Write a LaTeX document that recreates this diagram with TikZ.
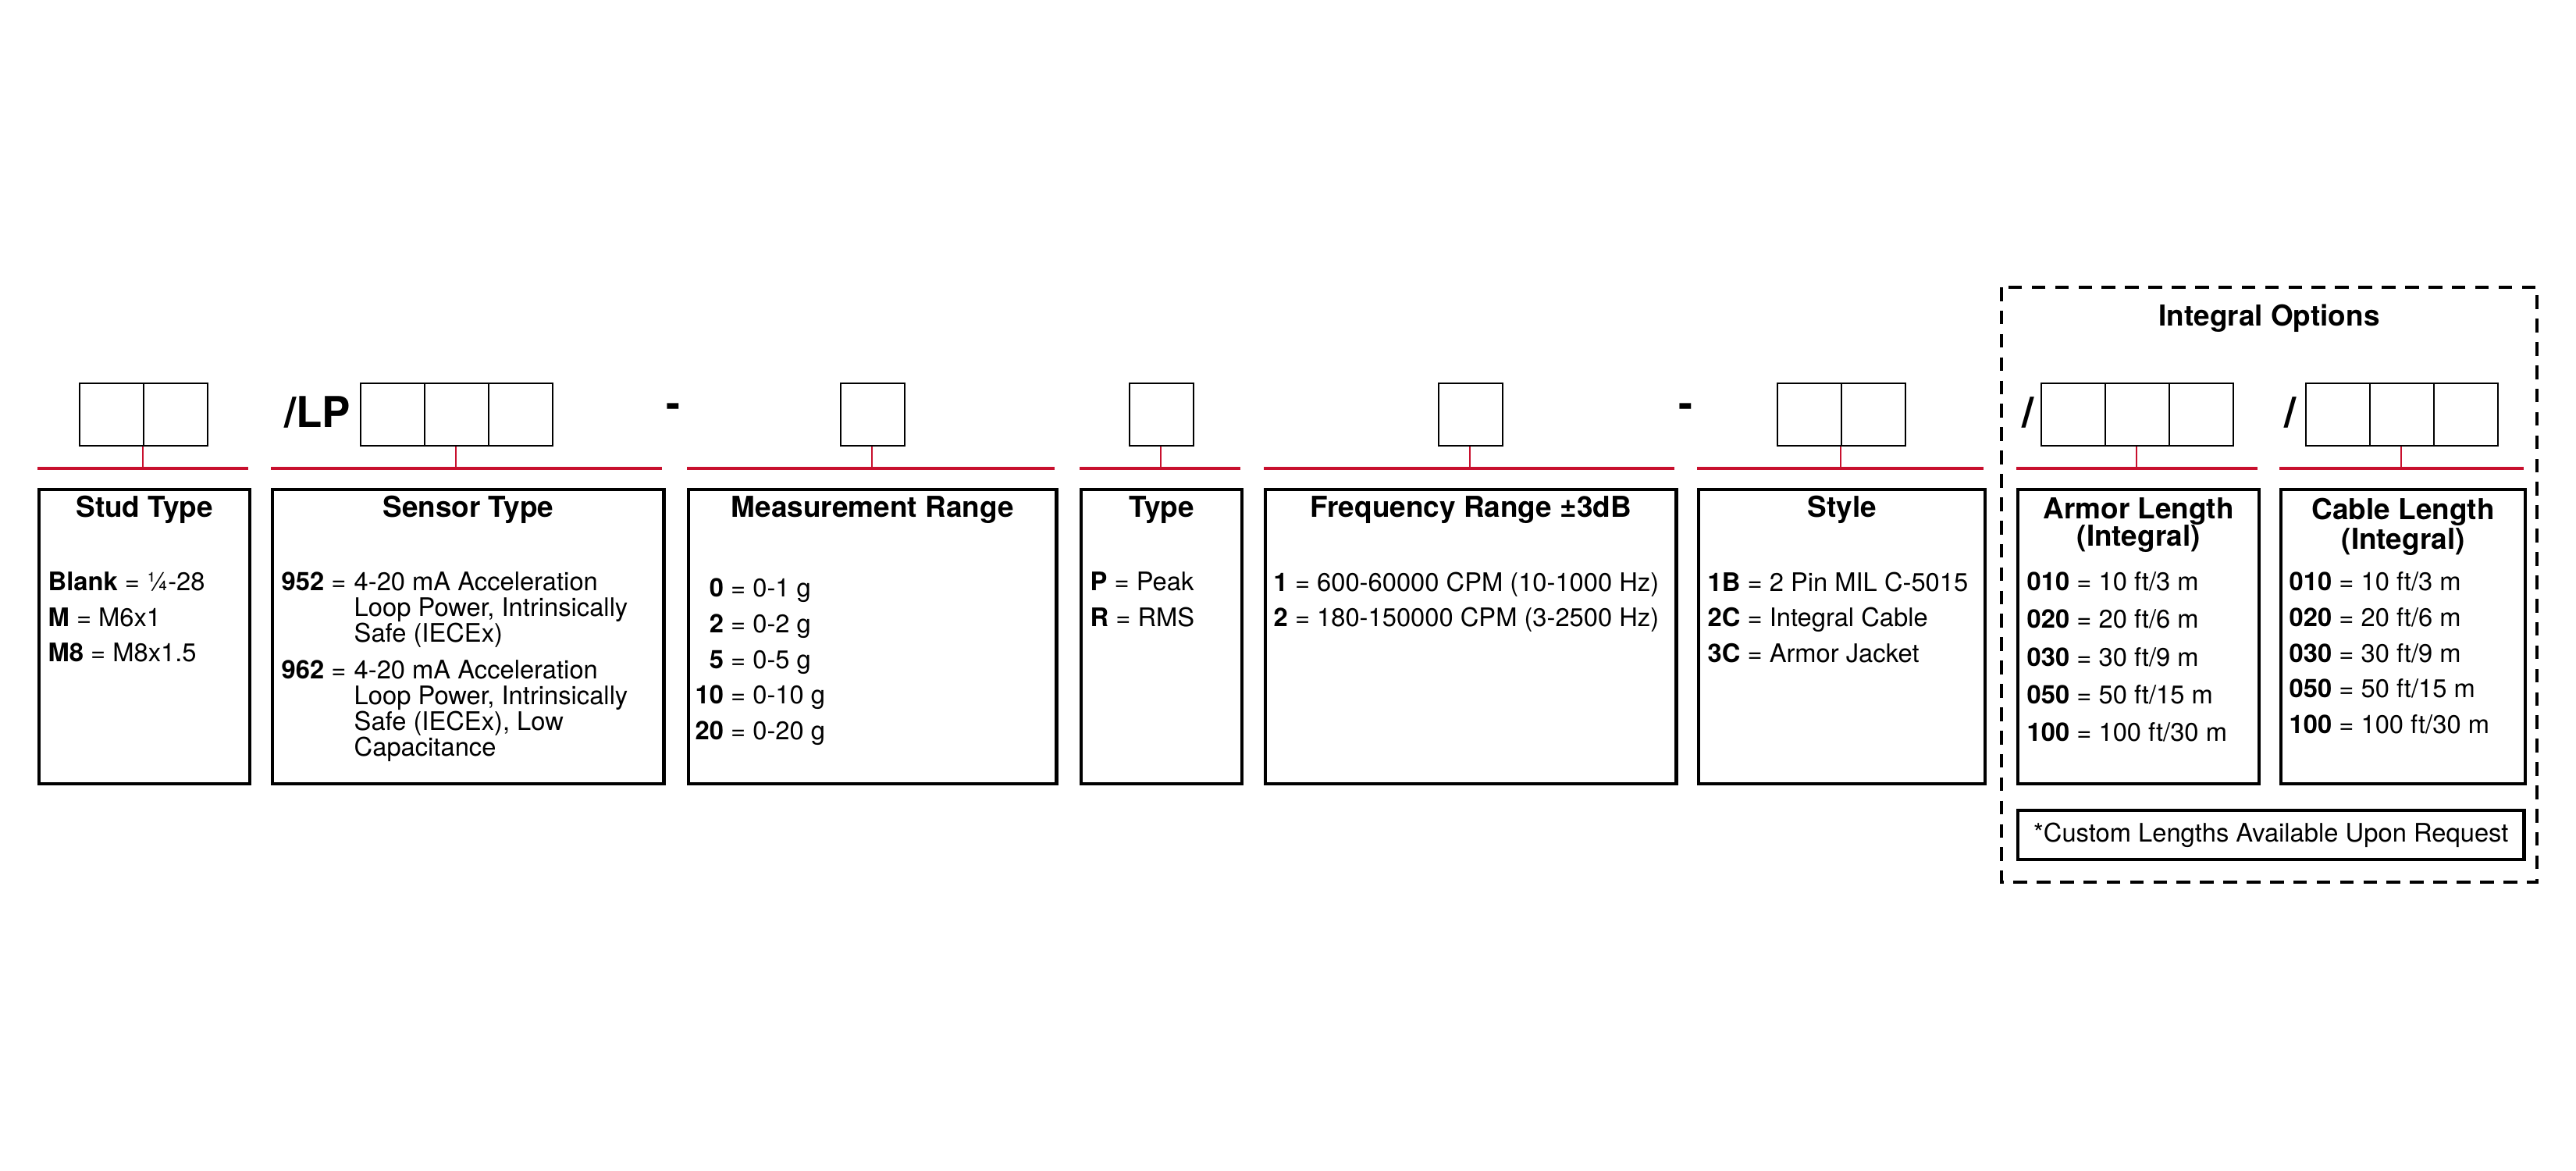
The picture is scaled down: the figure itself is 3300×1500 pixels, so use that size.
\documentclass[tikz,border=0pt]{standalone}
\usepackage{fontspec}
\setmainfont{TeX Gyre Heros}
\usepackage{tikz}
\usetikzlibrary{positioning,calc}
\definecolor{codered}{RGB}{200,16,46}
\tikzset{redline/.style={draw=codered, line width=1.1pt},
         stem/.style={draw=codered, line width=0.8pt},
         slot/.style={draw, line width=0.6pt, minimum width=0.82cm,
                      minimum height=0.8cm, inner sep=0pt, anchor=north west},
         catbox/.style={draw, line width=1.2pt, inner sep=0pt, anchor=north west},
         title/.style={font=\fontsize{10.5}{11}\selectfont\bfseries, align=center,
                       inner sep=0pt},
         body/.style={font=\fontsize{9.3}{13}\selectfont, align=left,
                      inner sep=0pt, anchor=north west},
         wrap/.style={font=\fontsize{9.3}{9.4}\selectfont, align=left,
                      inner sep=0pt, anchor=north west},
         sep/.style={font=\fontsize{15.5}{16}\selectfont\bfseries, inner sep=0pt}}
\newcommand{\opt}[2]{\textbf{#1} = #2}
\begin{document}
\begin{tikzpicture}[x=0.01cm, y=-0.01cm]
  \useasboundingbox (0,0) rectangle (3300,1500);

  % code slots, red rails and option boxes
  \foreach \n/\xl/\xr/\sx/\k in {stud/48/318/101/2, sensor/347/848/461/3,
      meas/880/1351/1076/1, type/1383/1589/1446/1, freq/1619/2145/1842/1,
      style/2174/2541/2276/2, armor/2583/2892/2614/3, cable/2920/3233/2953/3}{
    \pgfmathsetmacro{\bw}{(\xr-\xl)/100}
    \foreach \i in {1,...,\k}
      \node[slot] (\n-s\i) at (\sx+82*\i-82,490) {};
    \coordinate (\n-l) at (\xl,600);
    \coordinate (\n-r) at (\xr,600);
    \coordinate (\n-c) at (\sx+41*\k,600);
    \draw[redline] (\n-l) -- (\n-r);
    \draw[stem] (\n-c) -- (\n-c |- \n-s1.south);
    \node[catbox, minimum width=\bw cm, minimum height=3.77cm] (\n) at (\xl,625) {};
  }

  % separators
  \node[sep, anchor=east] (lp) at (450,528) {/LP};
  \node[sep] (d1) at (863,526) {-};
  \node[sep] (d2) at (2160,526) {-};
  \node[sep] (sl1) at (2598,528) {/};
  \node[sep] (sl2) at (2934,528) {/};

  % titles
  \node[title] (t-stud) at (stud.north |- 0,653) {Stud Type};
  \node[title] (t-sensor) at (sensor.north |- 0,653) {Sensor Type};
  \node[title] (t-meas) at (meas.north |- 0,653) {Measurement Range};
  \node[title] (t-type) at (type.north |- 0,653) {Type};
  \node[title] (t-freq) at (freq.north |- 0,653) {Frequency Range ±3dB};
  \node[title] (t-style) at (style.north |- 0,653) {Style};
  \node[title, anchor=north] (t-armor) at (armor.north |- 0,637) {Armor Length\\[-1pt](Integral)};
  \node[title, anchor=north, font=\fontsize{10.5}{8.6}\selectfont\bfseries] (t-cable)
    at (cable.north |- 0,637) {Cable Length\\(Integral)};

  % option lists
  \node[body] (v-stud) at (61,732) {\opt{Blank}{¼-28}\\ \opt{M}{M6x1}\\ \opt{M8}{M8x1.5}};
  \node[body] (k-952) at (360,732) {\textbf{952} =};
  \node[wrap] (v-952) at (453,732) {4-20 mA Acceleration\\Loop Power, Intrinsically\\Safe (IECEx)};
  \node[body] (k-962) at (360,845) {\textbf{962} =};
  \node[wrap] (v-962) at (453,845) {4-20 mA Acceleration\\Loop Power, Intrinsically\\Safe (IECEx), Low\\Capacitance};
  \node[body] (v-meas) at (890,732) {\begin{tabular}{@{}r@{ = }l@{}}
      \textbf{0} & 0-1 g\\ \textbf{2} & 0-2 g\\ \textbf{5} & 0-5 g\\
      \textbf{10} & 0-10 g\\ \textbf{20} & 0-20 g\end{tabular}};
  \node[body] (v-type) at (1396,732) {\opt{P}{Peak}\\ \opt{R}{RMS}};
  \node[body] (v-freq) at (1631,732) {\opt{1}{600-60000 CPM (10-1000 Hz)}\\
      \opt{2}{180-150000 CPM (3-2500 Hz)}};
  \node[body] (v-style) at (2187,732) {\opt{1B}{2 Pin MIL C-5015}\\
      \opt{2C}{Integral Cable}\\ \opt{3C}{Armor Jacket}};
  \node[body, font=\fontsize{9.3}{13.7}\selectfont] (v-armor) at (2596,732)
    {\opt{010}{10 ft/3 m}\\ \opt{020}{20 ft/6 m}\\ \opt{030}{30 ft/9 m}\\
     \opt{050}{50 ft/15 m}\\ \opt{100}{100 ft/30 m}};
  \node[body] (v-cable) at (2932,732)
    {\opt{010}{10 ft/3 m}\\ \opt{020}{20 ft/6 m}\\ \opt{030}{30 ft/9 m}\\
     \opt{050}{50 ft/15 m}\\ \opt{100}{100 ft/30 m}};

  % integral options frame
  \node[catbox, minimum width=6.48cm, minimum height=0.63cm] (custom) at (2583,1036) {};
  \node[body, anchor=center] (custom-t) at (custom.center) {*Custom Lengths Available Upon Request};
  \draw[line width=1.2pt, dash pattern=on 5pt off 3.5pt] (2564,368) rectangle (3250,1130);
  \node[title] (integral) at (2907,408) {Integral Options};
\end{tikzpicture}
\end{document}
